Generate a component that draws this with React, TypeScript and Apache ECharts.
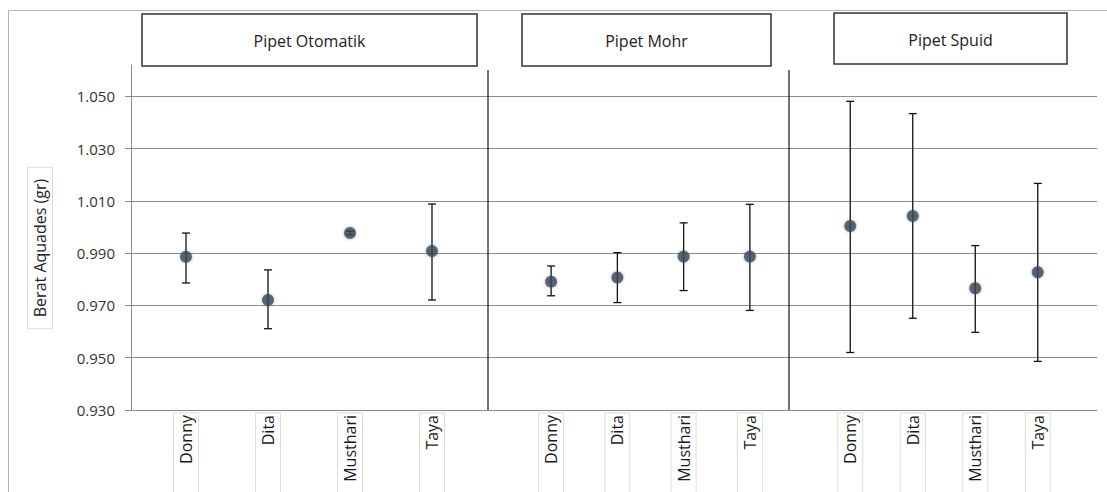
import React, { useEffect, useRef } from "react";
import * as echarts from "echarts";

const categories = ["Donny", "Dita", "Musthari", "Taya"];
const panelTitles = ["Pipet Otomatik", "Pipet Mohr", "Pipet Spuid"];
const yTicks = [0.93, 0.95, 0.97, 0.99, 1.01, 1.03, 1.05];

const otomatikMean = [0.9886, 0.9721, 0.9977, 0.9908];
const otomatikLow = [0.9786, 0.9611, 0.9971, 0.9721];
const otomatikHigh = [0.9977, 0.9836, 0.9984, 1.0088];

const mohrMean = [0.9791, 0.9807, 0.9887, 0.9887];
const mohrLow = [0.9737, 0.9711, 0.9757, 0.9681];
const mohrHigh = [0.9851, 0.9902, 1.0016, 1.0087];

const spuidMean = [1.0004, 1.0042, 0.9766, 0.9827];
const spuidLow = [0.952, 0.9651, 0.9597, 0.9486];
const spuidHigh = [1.0481, 1.0434, 0.9929, 1.0167];

const FONT = "'Open Sans', 'Noto Sans', sans-serif";
const Y_MIN = 0.93;
const Y_MAX = 1.062;

export default function App() {
  const ref = useRef<HTMLDivElement>(null);

  useEffect(() => {
    document.body.style.margin = "0";
    const chart = echarts.init(ref.current!, null, { renderer: "svg" });

    const panels = [
      { mean: otomatikMean, low: otomatikLow, high: otomatikHigh, left: 145, right: 1107 - 473 },
      { mean: mohrMean, low: mohrLow, high: mohrHigh, left: 518, right: 1107 - 783 },
      { mean: spuidMean, low: spuidLow, high: spuidHigh, left: 819, right: 1107 - 1069 },
    ];

    const yBase = {
      type: "value",
      min: Y_MIN,
      max: Y_MAX,
      interval: 0.02,
    };

    const gridBase = { top: 65, bottom: 82, containLabel: false, outerBoundsMode: "none" };

    const grids: any[] = [{ ...gridBase, left: 131, right: 10 }];
    const xAxes: any[] = [
      {
        type: "value",
        gridIndex: 0,
        min: 0,
        max: 1,
        axisLine: { show: true, lineStyle: { color: "#8c8c8c", width: 1 } },
        axisTick: { show: false },
        axisLabel: { show: false },
        splitLine: { show: false },
      },
    ];
    const yAxes: any[] = [
      {
        ...yBase,
        gridIndex: 0,
        axisLine: { show: true, lineStyle: { color: "#8c8c8c", width: 1 } },
        axisTick: { show: true, length: 6, customValues: yTicks, lineStyle: { color: "#8c8c8c" } },
        axisLabel: {
          customValues: yTicks,
          margin: 16,
          fontSize: 15,
          fontFamily: FONT,
          color: "#333",
          formatter: (v: number) => v.toFixed(3),
        },
        splitLine: { show: true, lineStyle: { color: "#8c8c8c", width: 1 } },
      },
    ];
    const series: any[] = [];

    panels.forEach((p, i) => {
      const gi = i + 1;
      grids.push({ ...gridBase, left: p.left, right: p.right });
      xAxes.push({
        type: "category",
        gridIndex: gi,
        data: categories,
        boundaryGap: true,
        axisLine: { show: false },
        axisTick: { show: false },
        splitLine: { show: false },
        axisLabel: {
          interval: 0,
          rotate: 90,
          align: "right",
          verticalAlign: "middle",
          margin: 3,
          fontSize: 16,
          lineHeight: 17,
          fontFamily: FONT,
          color: "#1a1a1a",
          borderColor: "#dcdcdc",
          borderWidth: 1,
          padding: [4, 2, 4, 60],
        },
      });
      yAxes.push({
        ...yBase,
        gridIndex: gi,
        show: false,
        splitLine: { show: false },
      });
      series.push({
        type: "custom",
        xAxisIndex: gi,
        yAxisIndex: gi,
        data: categories.map((_, k) => [k, p.low[k], p.high[k]]),
        encode: { x: 0, y: [1, 2] },
        z: 2,
        renderItem: (params: any, api: any) => {
          const x = api.value(0);
          const lo = api.coord([x, api.value(1)]);
          const hi = api.coord([x, api.value(2)]);
          const cap = 4;
          const style = { stroke: "#111", lineWidth: 1.3 };
          return {
            type: "group",
            children: [
              { type: "line", shape: { x1: lo[0], y1: lo[1], x2: hi[0], y2: hi[1] }, style },
              { type: "line", shape: { x1: lo[0] - cap, y1: lo[1], x2: lo[0] + cap, y2: lo[1] }, style },
              { type: "line", shape: { x1: hi[0] - cap, y1: hi[1], x2: hi[0] + cap, y2: hi[1] }, style },
            ],
          };
        },
      });
      series.push({
        type: "scatter",
        xAxisIndex: gi,
        yAxisIndex: gi,
        data: p.mean,
        symbol: "circle",
        symbolSize: 12,
        z: 3,
        itemStyle: {
          color: "rgba(52,66,82,0.92)",
          shadowBlur: 3,
          shadowColor: "rgba(70,90,110,0.6)",
        },
      });
    });

    const titleBoxes = [
      { x: 142, y: 14, w: 335, h: 52 },
      { x: 522, y: 14, w: 249, h: 52 },
      { x: 834, y: 13, w: 233, h: 51 },
    ];

    const graphic: any[] = [
      {
        type: "rect",
        shape: { x: 8.5, y: 10.5, width: 1120, height: 500 },
        style: { fill: "none", stroke: "#b4b4b4", lineWidth: 1 },
        z: 0,
      },
      ...titleBoxes.flatMap((b, i) => [
        {
          type: "rect",
          shape: { x: b.x, y: b.y, width: b.w, height: b.h },
          style: { fill: "#fff", stroke: "#333", lineWidth: 1.5 },
          z: 5,
        },
        {
          type: "text",
          x: b.x + b.w / 2,
          y: b.y + b.h / 2 + 1,
          style: {
            text: panelTitles[i],
            fontSize: 16,
            fontFamily: FONT,
            fill: "#222",
            align: "center",
            verticalAlign: "middle",
          },
          z: 6,
        },
      ]),
      {
        type: "line",
        shape: { x1: 488, y1: 70, x2: 488, y2: 410 },
        style: { stroke: "#111", lineWidth: 1.2 },
        z: 4,
      },
      {
        type: "line",
        shape: { x1: 789, y1: 70, x2: 789, y2: 410 },
        style: { stroke: "#111", lineWidth: 1.2 },
        z: 4,
      },
      {
        type: "text",
        x: 40,
        y: 248,
        rotation: Math.PI / 2,
        style: {
          text: "Berat Aquades (gr)",
          fontSize: 16,
          fontFamily: FONT,
          fill: "#222",
          align: "center",
          verticalAlign: "middle",
          borderColor: "#dcdcdc",
          borderWidth: 1,
          padding: [4, 11, 4, 11],
          backgroundColor: "#fff",
        },
        z: 6,
      },
    ];

    chart.setOption({
      animation: false,
      backgroundColor: "#fff",
      grid: grids,
      xAxis: xAxes,
      yAxis: yAxes,
      series,
      graphic,
    });

    return () => chart.dispose();
  }, []);

  return (
    <div
      ref={ref}
      style={{ position: "absolute", left: 0, top: 0, width: 1107, height: 492 }}
    />
  );
}
